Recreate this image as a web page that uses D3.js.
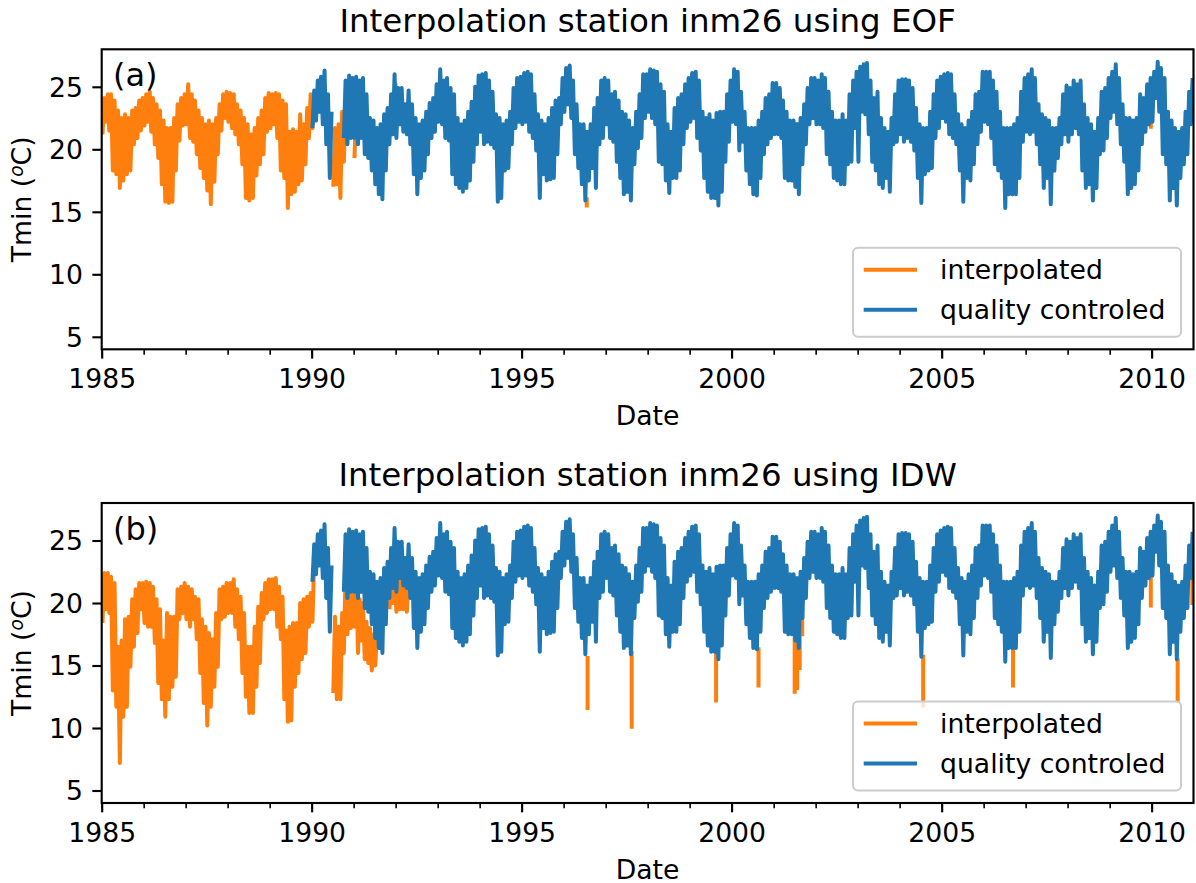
<!DOCTYPE html>
<html>
<head>
    <meta charset="utf-8">
    <title>Interpolation station inm26</title>
    <script type="text/javascript" src="https://cdn.jsdelivr.net/npm/d3@7"></script>
    <style type="text/css">
        body { margin: 0; background: #fff; }
        text { font-family: "DejaVu Sans", sans-serif; fill: #000; }
    </style>
</head>
<body>
<script type="text/javascript">
    // monthly low / high of the daily Tmin series
    var qcYears = d3.range(1990, 2011);
    var qcLow = [
        [21.7, 22.3, 23.0, 22.0, 20.4, 17.7, null, null, null, 20.9, 20.4, 20.9],
        [20.9, 20.4, 20.9, 19.6, 19.3, 18.3, 17.2, 16.4, 16.0, 18.3, 20.4, 21.2],
        [20.9, 22.0, 21.4, 21.2, 20.4, 18.0, 16.4, 17.7, 18.3, 19.6, 20.9, 21.4],
        [22.2, 22.0, 20.9, 20.7, 18.0, 17.2, 16.9, 16.6, 16.9, 17.5, 19.0, 20.4],
        [21.4, 20.4, 20.6, 20.4, 20.1, 15.8, 16.1, 18.3, 18.5, 20.4, 21.7, 22.2],
        [22.0, 22.2, 21.4, 20.9, 19.9, 16.1, 18.0, 17.5, 17.6, 17.7, 19.6, 22.0],
        [23.0, 23.6, 22.5, 19.6, 18.5, 17.2, 15.9, 17.5, 18.5, 16.9, 20.4, 20.9],
        [22.0, 20.9, 20.6, 19.0, 17.7, 16.4, 16.6, 15.9, 18.8, 20.1, 20.9, 22.5],
        [23.0, 22.5, 22.0, 19.0, 18.8, 17.5, 16.5, 17.7, 17.7, 18.3, 20.4, 21.7],
        [22.2, 22.5, 20.9, 19.9, 17.7, 16.6, 16.1, 16.1, 15.5, 16.6, 19.0, 20.6],
        [22.2, 22.0, 19.9, 20.6, 18.3, 17.2, 16.4, 16.3, 17.7, 19.6, 20.4, 20.9],
        [21.2, 21.2, 20.9, 17.7, 17.5, 17.5, 17.0, 16.4, 18.8, 20.4, 22.0, 22.5],
        [22.0, 22.0, 21.7, 19.6, 18.8, 17.7, 17.5, 17.2, 17.2, 18.8, 19.0, 21.7],
        [19.0, 23.0, 22.8, 21.2, 19.0, 18.3, 17.2, 16.9, 17.7, 16.6, 20.4, 20.6],
        [21.2, 20.6, 20.9, 20.6, 19.9, 17.7, 15.7, 18.0, 18.3, 18.5, 20.9, 21.7],
        [22.5, 22.2, 21.2, 20.9, 20.4, 18.3, 15.8, 17.7, 17.5, 18.8, 20.4, 21.4],
        [22.2, 22.0, 20.9, 18.8, 18.3, 17.7, 15.3, 16.4, 16.4, 16.4, 17.7, 20.6],
        [21.4, 21.2, 21.4, 20.4, 18.8, 16.9, 17.7, 15.6, 18.3, 19.3, 20.4, 21.2],
        [20.6, 21.2, 21.7, 21.2, 18.3, 16.9, 17.2, 15.9, 16.9, 19.6, 19.9, 20.9],
        [22.5, 23.0, 22.0, 20.4, 19.0, 16.4, 16.9, 17.2, 18.3, 20.4, 21.4, 22.0],
        [22.2, 24.1, 23.0, 19.6, 18.8, 15.9, 16.9, 15.5, 17.7, 18.8, 19.6, 22.0]
    ];
    var qcHigh = [
        [24.7, 25.5, 25.8, 26.3, 24.4, 23.0, null, null, null, 25.5, 25.9, 25.7],
        [25.8, 25.5, 25.7, 24.4, 22.5, 22.3, 21.7, 22.0, 22.8, 23.3, 24.4, 26.0],
        [24.9, 24.9, 23.6, 24.7, 23.6, 22.5, 22.0, 22.3, 23.0, 23.7, 24.1, 25.2],
        [26.4, 25.5, 25.7, 24.9, 24.4, 22.5, 22.0, 22.3, 23.0, 23.8, 25.0, 25.9],
        [26.0, 26.1, 25.5, 24.6, 22.8, 22.5, 22.0, 22.3, 23.0, 24.9, 25.7, 25.8],
        [26.1, 26.2, 26.0, 24.4, 22.8, 22.3, 22.0, 22.5, 23.3, 23.9, 24.1, 25.7],
        [26.5, 26.7, 25.5, 23.6, 22.0, 22.0, 21.4, 22.0, 23.3, 24.1, 25.5, 25.7],
        [25.5, 24.4, 24.6, 23.9, 23.0, 22.8, 22.3, 21.7, 23.0, 24.4, 26.0, 26.0],
        [26.4, 26.3, 26.2, 25.2, 24.6, 22.0, 21.4, 23.3, 24.1, 24.4, 25.2, 25.7],
        [26.1, 26.2, 25.5, 23.0, 22.5, 22.8, 22.3, 22.9, 23.0, 23.0, 24.4, 25.5],
        [26.4, 26.2, 24.6, 23.0, 21.7, 21.7, 21.7, 22.3, 23.0, 24.1, 24.4, 25.3],
        [25.3, 24.9, 23.9, 23.0, 22.3, 22.3, 22.0, 22.5, 23.6, 24.9, 25.7, 25.7],
        [25.5, 26.0, 25.7, 24.6, 23.0, 22.3, 22.3, 22.8, 22.3, 24.4, 25.5, 26.2],
        [26.6, 26.8, 26.9, 25.5, 24.1, 24.6, 22.5, 21.7, 21.4, 22.5, 24.4, 25.5],
        [25.6, 25.6, 25.5, 24.9, 23.3, 22.0, 21.7, 21.7, 23.0, 24.4, 25.5, 25.8],
        [26.0, 26.1, 26.0, 24.4, 22.8, 22.0, 21.7, 22.3, 23.0, 24.4, 24.6, 26.2],
        [26.2, 26.2, 25.5, 24.6, 23.0, 21.7, 21.7, 21.7, 22.0, 22.5, 24.6, 25.7],
        [26.0, 26.4, 25.7, 23.6, 22.8, 22.5, 22.3, 21.7, 21.7, 22.5, 24.4, 25.1],
        [24.9, 25.5, 25.2, 25.5, 23.6, 22.5, 22.0, 21.4, 22.5, 24.6, 24.9, 25.7],
        [26.2, 26.8, 25.7, 23.6, 22.5, 22.5, 22.3, 22.5, 24.4, 24.1, 25.2, 25.7],
        [26.2, 27.0, 26.5, 25.7, 23.0, 22.3, 21.7, 21.4, 21.7, 23.0, 24.6, 25.7]
    ];

    // interpolated series (EOF), only where it shows from under the observations
    var eofYears = [1985, 1986, 1987, 1988, 1989, 1990, 1991];
    var eofLow = [
        [21.2, 22.2, 21.5, 18.3, 18.0, 16.9, 17.5, 18.0, 18.3, 20.4, 20.9, 21.5],
        [21.9, 22.2, 21.4, 20.4, 19.3, 17.2, 15.8, 15.7, 15.8, 18.3, 20.7, 21.9],
        [22.0, 20.9, 20.6, 19.6, 18.5, 17.7, 16.7, 15.6, 17.4, 19.6, 21.5, 22.5],
        [22.2, 21.7, 21.2, 20.4, 18.8, 16.1, 15.9, 16.1, 17.9, 18.8, 19.6, 21.4],
        [21.7, 22.0, 20.9, 18.3, 17.7, 15.3, 16.4, 16.6, 17.2, 17.5, 18.8, 20.9],
        [21.7, null, null, null, null, null, 17.0, 17.2, 16.1, 19.0, null, null],
        [19.3, null, null, null, null, null, null, null, null, null, null, null]
    ];
    var eofHigh = [
        [24.1, 24.4, 24.4, 23.9, 23.1, 22.5, 22.8, 22.5, 23.1, 23.3, 23.9, 24.1],
        [24.4, 24.6, 24.1, 23.6, 23.1, 22.3, 21.7, 21.7, 22.5, 23.6, 24.1, 24.4],
        [25.2, 24.4, 23.9, 23.1, 22.5, 22.0, 22.3, 22.0, 22.5, 23.6, 24.4, 24.6],
        [24.5, 24.4, 23.6, 23.1, 22.5, 22.0, 21.2, 21.7, 22.5, 23.1, 24.1, 24.5],
        [24.4, 24.5, 24.4, 23.9, 23.6, 21.4, 21.6, 21.4, 22.8, 22.0, 23.3, 24.4],
        [24.5, null, null, null, null, null, 21.7, 22.0, 23.0, 23.5, null, null],
        [23.0, null, null, null, null, null, null, null, null, null, null, null]
    ];
    // single interpolated days: [decimal year, low, high]
    var eofSpikes = [[1992.0, 24.0, 25.1], [1996.55, 15.5, 16.0], [2001.56, 17.0, 22.0], [2009.98, 21.8, 24.6]];

    // interpolated series (IDW)
    var idwYears = [1985, 1986, 1987, 1988, 1989, 1990, 1991, 1992];
    var idwLow = [
        [18.4, 19.5, 19.2, 13.0, 11.7, 7.2, 10.9, 11.7, 14.9, 16.5, 17.6, 19.5],
        [18.4, 18.1, 18.1, 16.8, 13.6, 12.3, 10.9, 12.3, 13.3, 14.1, 18.7, 19.2],
        [18.7, 18.1, 18.7, 17.1, 14.4, 12.0, 10.2, 11.7, 13.3, 14.9, 18.7, 18.9],
        [19.2, 19.2, 18.1, 17.1, 14.4, 12.5, 11.2, 11.2, 13.3, 15.2, 18.7, 19.2],
        [19.5, 19.5, 18.1, 17.1, 12.3, 10.5, 10.6, 13.3, 14.4, 15.5, 16.0, 18.1],
        [18.5, null, null, null, null, null, 12.8, 12.3, 12.3, 16.0, 17.5, 18.0],
        [18.1, 16.0, 17.0, 15.5, 15.2, 14.6, 15.0, null, null, null, 19.5, 20.0],
        [19.3, 19.5, 19.5, 19.3, null, null, null, null, null, null, null, null]
    ];
    var idwHigh = [
        [22.4, 22.4, 22.1, 21.6, 16.5, 17.0, 18.7, 18.9, 20.3, 21.1, 21.6, 21.6],
        [21.7, 21.6, 21.3, 20.3, 19.5, 17.0, 19.2, 18.9, 18.9, 21.1, 21.3, 21.6],
        [21.3, 21.1, 20.5, 20.3, 18.7, 18.1, 17.6, 17.1, 19.2, 21.1, 21.3, 21.6],
        [21.6, 21.9, 21.1, 20.5, 19.2, 16.5, 16.5, 18.1, 19.7, 20.8, 21.6, 21.9],
        [21.9, 22.0, 21.3, 20.5, 17.8, 18.1, 18.4, 18.4, 20.0, 20.3, 20.5, 20.8],
        [23.5, null, null, null, null, null, 18.9, 18.1, 19.2, 22.5, 21.0, 21.5],
        [22.9, 20.3, 20.0, 18.5, 18.0, 17.5, 17.5, null, null, null, 21.0, 22.0],
        [22.5, 22.0, 21.5, 22.5, null, null, null, null, null, null, null, null]
    ];
    var idwSpikes = [
        [1996.57, 11.6, 15.6], [1997.62, 10.1, 16.0], [1999.63, 12.2, 16.0], [2000.64, 13.4, 16.3],
        [2001.50, 12.9, 18.5], [2001.56, 13.2, 18.0], [2001.62, 14.8, 17.5], [2001.68, 17.5, 19.0],
        [2004.56, 11.8, 15.7], [2006.70, 13.4, 16.3], [2009.98, 19.8, 24.5], [2010.62, 12.2, 15.4],
        [2010.97, 20.0, 22.9]
    ];

    var yTicks = [5, 10, 15, 20, 25];
    var majorYears = [1985, 1990, 1995, 2000, 2005, 2010];
    var minorYears = d3.range(1985, 2011);
    var legendLabels = ["interpolated", "quality controled"];
    var colors = {interp: "#ff7f0e", qc: "#1f77b4"};

    var W = 1196, H = 883,
        left = 101.7, right = 1193.5, ph = 300, fs = 26.67;

    var svg = d3.select("body").append("svg")
        .attr("width", W)
        .attr("height", H);

    var x = d3.scaleUtc()
        .domain([new Date(Date.UTC(1985, 0, 1)), new Date(Date.UTC(2010, 11, 31))])
        .range([left, right]);

    function yearDate(y) {
        var yr = Math.floor(y),
            a = Date.UTC(yr, 0, 1), b = Date.UTC(yr + 1, 0, 1);
        return new Date(a + (y - yr) * (b - a));
    }

    // two points a month: low early, high late -> dense zigzag like the daily trace
    function zigzag(years, lows, highs) {
        var pts = [];
        years.forEach(function (yr, i) {
            d3.range(12).forEach(function (m) {
                pts.push({t: new Date(Date.UTC(yr, m, 8)), v: lows[i][m]});
                pts.push({t: new Date(Date.UTC(yr, m, 23)), v: highs[i][m]});
            });
        });
        return pts;
    }

    var qcPts = zigzag(qcYears, qcLow, qcHigh);

    function panel(top, title, tag, interpPts, spikes, id) {
        var y = d3.scaleLinear().domain([4, 28]).range([top + ph, top]);
        var g = svg.append("g");

        g.append("clipPath").attr("id", "clip" + id)
            .append("rect")
            .attr("x", left).attr("y", top)
            .attr("width", right - left).attr("height", ph);

        var line = d3.line()
            .defined(function (d) { return d.v != null; })
            .x(function (d) { return x(d.t); })
            .y(function (d) { return y(d.v); });

        var plot = g.append("g").attr("clip-path", "url(#clip" + id + ")");

        plot.append("path")
            .datum(interpPts)
            .attr("d", line)
            .attr("fill", "none")
            .attr("stroke", colors.interp)
            .attr("stroke-width", 4)
            .attr("stroke-linejoin", "round");

        plot.selectAll("line.spike")
            .data(spikes)
            .enter().append("line")
            .attr("class", "spike")
            .attr("x1", function (d) { return x(yearDate(d[0])); })
            .attr("x2", function (d) { return x(yearDate(d[0])); })
            .attr("y1", function (d) { return y(d[1]); })
            .attr("y2", function (d) { return y(d[2]); })
            .attr("stroke", colors.interp)
            .attr("stroke-width", 4)
            .attr("stroke-linecap", "square");

        plot.append("path")
            .datum(qcPts)
            .attr("d", line)
            .attr("fill", "none")
            .attr("stroke", colors.qc)
            .attr("stroke-width", 4)
            .attr("stroke-linejoin", "round");

        // axes
        var yAxis = g.append("g")
            .attr("transform", "translate(" + left + ",0)")
            .call(d3.axisLeft(y).tickValues(yTicks).tickSize(9.33).tickPadding(9.33).tickSizeOuter(0));
        var xMinor = g.append("g")
            .attr("transform", "translate(0," + (top + ph) + ")")
            .call(d3.axisBottom(x).tickValues(minorYears.map(function (v) { return new Date(Date.UTC(v, 0, 1)); }))
                .tickSize(5.33).tickFormat("").tickSizeOuter(0));
        var xAxis = g.append("g")
            .attr("transform", "translate(0," + (top + ph) + ")")
            .call(d3.axisBottom(x).tickValues(majorYears.map(function (v) { return new Date(Date.UTC(v, 0, 1)); }))
                .tickSize(9.33).tickPadding(9.33).tickSizeOuter(0)
                .tickFormat(d3.utcFormat("%Y")));

        [yAxis, xAxis, xMinor].forEach(function (a) {
            a.select(".domain").remove();
            a.selectAll("line").attr("stroke", "#000").attr("stroke-width", 2.13);
            a.selectAll("text").attr("font-family", "DejaVu Sans").attr("font-size", fs).attr("fill", "#000");
        });
        xMinor.selectAll("line").attr("stroke-width", 1.6);
        yAxis.selectAll("text").attr("dy", "0.35em");
        xAxis.selectAll("text").attr("dy", "0.76em");

        g.append("rect")
            .attr("x", left).attr("y", top)
            .attr("width", right - left).attr("height", ph)
            .attr("fill", "none")
            .attr("stroke", "#000")
            .attr("stroke-width", 2.13);

        // labels
        g.append("text")
            .attr("x", (left + right) / 2).attr("y", top - 17.5)
            .attr("text-anchor", "middle")
            .attr("font-size", 32.5)
            .text(title);
        g.append("text")
            .attr("x", 113).attr("y", top + 37)
            .attr("font-size", 32)
            .text(tag);
        g.append("text")
            .attr("x", (left + right) / 2).attr("y", top + ph + 75.5)
            .attr("text-anchor", "middle")
            .attr("font-size", fs)
            .text("Date");
        var yl = g.append("text")
            .attr("transform", "translate(31," + (top + ph / 2) + ") rotate(-90)")
            .attr("text-anchor", "middle")
            .attr("font-size", fs);
        yl.append("tspan").text("Tmin (");
        yl.append("tspan").attr("font-size", fs * 0.7).attr("font-style", "italic")
            .attr("baseline-shift", "40%").text("o");
        yl.append("tspan").text("C)");

        // legend
        var lw = 328, lh = 89,
            lx = right - 12.5 - lw, ly = top + ph - 12.5 - lh;
        var leg = g.append("g");
        leg.append("rect")
            .attr("x", lx).attr("y", ly)
            .attr("width", lw).attr("height", lh)
            .attr("rx", 5)
            .attr("fill", "#fff").attr("fill-opacity", 0.8)
            .attr("stroke", "#cccccc").attr("stroke-width", 2);
        [colors.interp, colors.qc].forEach(function (c, i) {
            var ey = ly + 22 + i * 40;
            leg.append("line")
                .attr("x1", lx + 10.7).attr("x2", lx + 64)
                .attr("y1", ey).attr("y2", ey)
                .attr("stroke", c).attr("stroke-width", 4);
            leg.append("text")
                .attr("x", lx + 87).attr("y", ey)
                .attr("dy", "0.36em")
                .attr("font-size", fs)
                .text(legendLabels[i]);
        });
    }

    panel(49.3, "Interpolation station inm26 using EOF", "(a)", zigzag(eofYears, eofLow, eofHigh), eofSpikes, "a");
    panel(503, "Interpolation station inm26 using IDW", "(b)", zigzag(idwYears, idwLow, idwHigh), idwSpikes, "b");
</script>
</body>
</html>
